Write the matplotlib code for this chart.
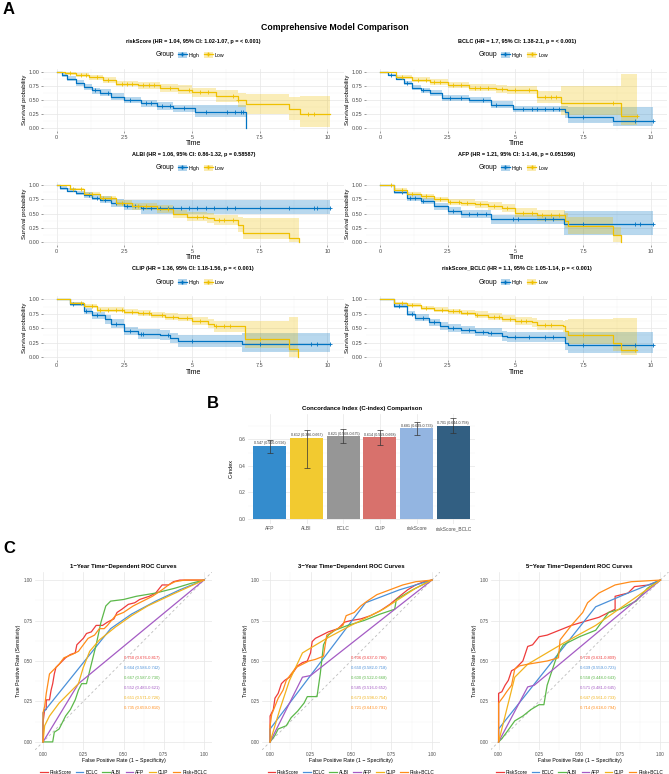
import numpy as np
import matplotlib
matplotlib.use("Agg")
import matplotlib.pyplot as plt
from matplotlib.patches import Patch
from matplotlib.lines import Line2D
from matplotlib.ticker import MultipleLocator

plt.rcParams['font.family'] = ['Liberation Sans', 'DejaVu Sans']

# ---------------- Panel A: Kaplan-Meier data ----------------
# riskScore
rs_hi_t = [0, 0.2, 0.4, 0.7, 1.0, 1.3, 1.6, 2.0, 2.5, 3.1, 3.7, 4.3, 5.1, 7.0]
rs_hi_s = [1.0, 0.94, 0.88, 0.80, 0.73, 0.67, 0.63, 0.56, 0.50, 0.44, 0.40, 0.35, 0.29, 0.0]
rs_hi_lo = [1.0, 0.91, 0.84, 0.75, 0.68, 0.61, 0.57, 0.50, 0.44, 0.38, 0.33, 0.28, 0.20, 0.0]
rs_hi_up = [1.0, 0.97, 0.92, 0.85, 0.78, 0.72, 0.69, 0.62, 0.56, 0.50, 0.46, 0.42, 0.41, 0.0]
rs_hi_cens = [1.4, 1.9, 2.7, 3.3, 3.5, 3.9, 4.2, 4.7, 5.5, 6.3, 6.6, 6.8, 6.9]
rs_lo_t = [0, 0.3, 0.7, 1.2, 1.7, 2.2, 3.0, 3.8, 4.5, 5.0, 5.9, 6.7, 7.0, 8.6, 9.0, 10.1]
rs_lo_s = [1.0, 0.97, 0.94, 0.90, 0.85, 0.79, 0.76, 0.72, 0.68, 0.64, 0.57, 0.50, 0.43, 0.34, 0.25, 0.25]
rs_lo_lo = [1.0, 0.95, 0.91, 0.86, 0.80, 0.74, 0.70, 0.65, 0.60, 0.56, 0.47, 0.38, 0.25, 0.15, 0.03, 0.03]
rs_lo_up = [1.0, 0.99, 0.97, 0.94, 0.90, 0.84, 0.82, 0.79, 0.76, 0.72, 0.67, 0.62, 0.60, 0.56, 0.57, 0.57]
rs_lo_cens = [0.5, 0.9, 1.1, 1.5, 1.9, 2.4, 2.6, 2.8, 3.2, 3.4, 3.6, 4.2, 4.9, 5.3, 5.6, 6.5, 6.7, 9.3, 9.5]

# BCLC
bc_hi_t = [0, 0.3, 0.6, 0.9, 1.2, 1.5, 1.85, 2.3, 3.3, 4.1, 4.9, 6.85, 6.95, 8.6, 10.1]
bc_hi_s = [1.0, 0.94, 0.88, 0.80, 0.72, 0.67, 0.62, 0.53, 0.50, 0.42, 0.34, 0.28, 0.20, 0.13, 0.13]
bc_hi_lo = [1.0, 0.92, 0.85, 0.76, 0.68, 0.62, 0.57, 0.48, 0.44, 0.36, 0.28, 0.18, 0.10, 0.04, 0.04]
bc_hi_up = [1.0, 0.96, 0.91, 0.84, 0.77, 0.72, 0.67, 0.59, 0.56, 0.48, 0.40, 0.40, 0.38, 0.37, 0.37]
bc_hi_cens = [0.4, 1.0, 1.6, 2.6, 3.0, 3.8, 4.3, 5.3, 5.6, 5.8, 6.1, 6.4, 6.6, 7.5, 9.4, 10.1]
bc_lo_t = [0, 0.6, 1.2, 1.85, 2.5, 3.3, 4.3, 4.7, 5.8, 6.7, 8.9, 9.5]
bc_lo_s = [1.0, 0.91, 0.86, 0.82, 0.76, 0.72, 0.70, 0.67, 0.55, 0.44, 0.21, 0.21]
bc_lo_lo = [1.0, 0.88, 0.82, 0.77, 0.71, 0.66, 0.63, 0.60, 0.45, 0.24, 0.05, 0.05]
bc_lo_up = [1.0, 0.94, 0.90, 0.87, 0.82, 0.79, 0.77, 0.74, 0.66, 0.74, 0.96, 0.96]
bc_lo_cens = [0.8, 1.4, 1.7, 2.0, 2.2, 2.7, 3.0, 3.5, 3.7, 4.0, 4.5, 5.0, 5.5, 6.1, 6.3, 6.5, 8.6, 9.5]

# ALBI
al_hi_t = [0, 0.12, 0.37, 0.7, 1.0, 1.3, 1.6, 2.0, 2.5, 3.1, 10.1]
al_hi_s = [1.0, 0.95, 0.90, 0.86, 0.83, 0.78, 0.74, 0.69, 0.64, 0.60, 0.60]
al_hi_lo = [1.0, 0.92, 0.87, 0.82, 0.78, 0.73, 0.68, 0.62, 0.56, 0.49, 0.49]
al_hi_up = [1.0, 0.98, 0.94, 0.90, 0.87, 0.83, 0.80, 0.76, 0.73, 0.73, 0.73]
al_hi_cens = [1.2, 1.5, 1.8, 2.2, 2.6, 2.9, 3.2, 3.5, 3.8, 4.1, 4.3, 4.6, 4.9, 5.2, 5.5, 5.8,
              6.3, 6.6, 7.5, 8.6, 9.5, 9.6, 10.1]
al_lo_t = [0, 0.5, 1.0, 1.6, 2.2, 2.8, 3.7, 4.3, 4.8, 5.55, 5.8, 6.7, 6.9, 8.6, 8.95]
al_lo_s = [1.0, 0.93, 0.85, 0.77, 0.68, 0.63, 0.58, 0.50, 0.45, 0.42, 0.39, 0.30, 0.16, 0.07, 0.0]
al_lo_lo = [1.0, 0.91, 0.82, 0.73, 0.63, 0.57, 0.51, 0.43, 0.37, 0.33, 0.30, 0.18, 0.05, 0.0, 0.0]
al_lo_up = [1.0, 0.95, 0.88, 0.81, 0.73, 0.69, 0.65, 0.57, 0.53, 0.51, 0.48, 0.44, 0.43, 0.43, 0.0]
al_lo_cens = [0.6, 0.9, 1.3, 1.7, 2.0, 2.4, 3.0, 3.3, 4.1, 5.2, 5.4, 6.0, 6.2, 6.5]

# AFP
af_hi_t = [0, 0.5, 1.0, 1.5, 2.0, 2.5, 3.0, 4.1, 6.8, 10.1]
af_hi_s = [1.0, 0.88, 0.77, 0.72, 0.63, 0.55, 0.49, 0.40, 0.32, 0.32]
af_hi_lo = [1.0, 0.84, 0.72, 0.66, 0.57, 0.48, 0.42, 0.32, 0.12, 0.12]
af_hi_up = [1.0, 0.92, 0.82, 0.78, 0.69, 0.62, 0.56, 0.48, 0.55, 0.55]
af_hi_cens = [0.8, 1.1, 1.3, 1.6, 2.7, 3.3, 3.6, 3.9, 4.9, 5.1, 6.1, 6.4, 7.5, 9.4, 9.6, 10.1]
af_lo_t = [0, 0.5, 1.0, 1.5, 2.0, 2.5, 3.0, 3.5, 4.0, 4.5, 5.0, 5.8, 6.85, 6.95, 8.6, 8.9]
af_lo_s = [1.0, 0.92, 0.85, 0.80, 0.75, 0.70, 0.69, 0.66, 0.63, 0.60, 0.52, 0.47, 0.38, 0.28, 0.12, 0.0]
af_lo_lo = [1.0, 0.90, 0.82, 0.76, 0.71, 0.65, 0.63, 0.60, 0.56, 0.53, 0.44, 0.38, 0.25, 0.15, 0.0, 0.0]
af_lo_up = [1.0, 0.94, 0.88, 0.84, 0.79, 0.75, 0.75, 0.72, 0.70, 0.67, 0.60, 0.56, 0.52, 0.44, 0.27, 0.0]
af_lo_cens = [0.4, 0.8, 1.2, 1.7, 2.2, 2.6, 2.9, 3.2, 3.7, 4.2, 4.7, 5.3, 5.6, 6.0, 6.3, 6.6]

# CLIP
cl_hi_t = [0, 0.5, 1.0, 1.3, 1.8, 2.0, 2.5, 3.0, 3.8, 4.2, 4.5, 6.85, 10.1]
cl_hi_s = [1.0, 0.92, 0.80, 0.72, 0.65, 0.58, 0.45, 0.40, 0.38, 0.33, 0.28, 0.22, 0.22]
cl_hi_lo = [1.0, 0.89, 0.75, 0.66, 0.58, 0.51, 0.38, 0.32, 0.30, 0.24, 0.18, 0.08, 0.08]
cl_hi_up = [1.0, 0.95, 0.85, 0.78, 0.72, 0.65, 0.52, 0.48, 0.46, 0.42, 0.38, 0.42, 0.42]
cl_hi_cens = [0.6, 1.1, 1.5, 2.2, 2.7, 3.1, 3.2, 4.1, 5.0, 7.5, 9.4, 9.6, 10.1]
cl_lo_t = [0, 0.5, 1.0, 1.5, 2.5, 3.0, 3.5, 4.0, 4.5, 5.0, 5.6, 5.8, 6.95, 8.6, 8.9]
cl_lo_s = [1.0, 0.93, 0.88, 0.82, 0.78, 0.76, 0.72, 0.70, 0.68, 0.62, 0.58, 0.53, 0.31, 0.14, 0.0]
cl_lo_lo = [1.0, 0.91, 0.85, 0.78, 0.74, 0.71, 0.67, 0.64, 0.62, 0.55, 0.50, 0.44, 0.15, 0.0, 0.0]
cl_lo_up = [1.0, 0.95, 0.91, 0.86, 0.83, 0.81, 0.78, 0.76, 0.75, 0.69, 0.66, 0.62, 0.62, 0.70, 0.0]
cl_lo_cens = [0.9, 1.3, 1.6, 1.9, 2.2, 2.4, 2.8, 3.2, 3.4, 3.9, 4.3, 4.8, 5.3, 5.9, 6.2, 6.4, 7.5]

# riskScore_BCLC
rb_hi_t = [0, 0.5, 1.0, 1.3, 1.8, 2.2, 2.5, 3.0, 3.5, 4.0, 4.5, 4.7, 6.85, 6.95, 10.1]
rb_hi_s = [1.0, 0.88, 0.75, 0.68, 0.60, 0.53, 0.50, 0.47, 0.44, 0.42, 0.36, 0.34, 0.25, 0.20, 0.20]
rb_hi_lo = [1.0, 0.85, 0.71, 0.63, 0.54, 0.47, 0.44, 0.40, 0.37, 0.35, 0.28, 0.26, 0.12, 0.07, 0.07]
rb_hi_up = [1.0, 0.91, 0.80, 0.74, 0.66, 0.60, 0.57, 0.54, 0.51, 0.50, 0.45, 0.43, 0.44, 0.44, 0.44]
rb_hi_cens = [0.7, 1.2, 1.6, 2.0, 2.7, 3.3, 3.8, 4.1, 5.0, 5.5, 6.1, 6.4, 7.5, 9.4, 10.1]
rb_lo_t = [0, 0.5, 1.0, 1.5, 2.0, 2.5, 3.0, 3.5, 4.0, 4.5, 5.0, 5.6, 5.8, 6.75, 6.85, 6.95, 8.6, 8.9, 9.5]
rb_lo_s = [1.0, 0.93, 0.90, 0.85, 0.82, 0.79, 0.77, 0.73, 0.70, 0.66, 0.63, 0.60, 0.55, 0.53, 0.45, 0.38,
           0.25, 0.12, 0.12]
rb_lo_lo = [1.0, 0.91, 0.87, 0.81, 0.78, 0.74, 0.72, 0.67, 0.64, 0.60, 0.56, 0.52, 0.47, 0.44, 0.30, 0.22,
            0.10, 0.03, 0.03]
rb_lo_up = [1.0, 0.95, 0.93, 0.89, 0.86, 0.84, 0.82, 0.79, 0.76, 0.73, 0.70, 0.68, 0.64, 0.63, 0.64, 0.65,
            0.68, 0.68, 0.68]
rb_lo_cens = [0.8, 1.2, 1.7, 2.3, 2.7, 2.9, 3.2, 3.6, 4.2, 4.4, 4.8, 5.2, 5.4, 6.1, 6.3, 7.5, 9.4]

km_titles = [
    "riskScore (HR = 1.04, 95% CI: 1.02-1.07, p = < 0.001)",
    "BCLC (HR = 1.7, 95% CI: 1.38-2.1, p = < 0.001)",
    "ALBI (HR = 1.06, 95% CI: 0.86-1.32, p = 0.58587)",
    "AFP (HR = 1.21, 95% CI: 1-1.46, p = 0.051596)",
    "CLIP (HR = 1.36, 95% CI: 1.18-1.56, p = < 0.001)",
    "riskScore_BCLC (HR = 1.1, 95% CI: 1.05-1.14, p = < 0.001)",
]

# ---------------- Panel B: C-index ----------------
cidx_models = ["AFP", "ALBI", "BCLC", "CLIP", "riskScore", "riskScore_BCLC"]
cidx_value = [0.547, 0.612, 0.621, 0.614, 0.681, 0.701]
cidx_lower = [0.500, 0.386, 0.568, 0.559, 0.629, 0.644]
cidx_upper = [0.596, 0.667, 0.675, 0.668, 0.733, 0.758]
cidx_colors = ["#348CCD", "#F2CA30", "#969696", "#D8716C", "#93B5E1", "#325F82"]

# ---------------- Panel C: ROC curves ----------------
roc_names = ["RiskScore", "BCLC", "ALBI", "AFP", "CLIP", "Risk+BCLC"]
roc_colors = ["#EE3B3B", "#4A90D9", "#5CB84A", "#A45BC4", "#F2B21C", "#FF8C1A"]

roc1_risk = [(0, 0), (0, 0.12), (0.01, 0.2), (0.02, 0.2), (0.02, 0.26), (0.04, 0.26), (0.05, 0.32),
             (0.06, 0.36), (0.07, 0.42), (0.08, 0.46), (0.10, 0.48), (0.12, 0.50), (0.14, 0.52),
             (0.17, 0.54), (0.20, 0.55), (0.21, 0.60), (0.23, 0.62), (0.25, 0.64), (0.27, 0.67),
             (0.30, 0.68), (0.33, 0.72), (0.37, 0.72), (0.40, 0.74), (0.44, 0.76), (0.46, 0.80),
             (0.49, 0.82), (0.53, 0.85), (0.57, 0.86), (0.60, 0.88), (0.66, 0.90), (0.70, 0.92),
             (0.74, 0.97), (0.78, 0.97), (0.81, 0.99), (0.85, 1.0), (1, 1)]
roc1_bclc = [(0, 0), (0, 0.18), (0.42, 0.70), (0.55, 0.79), (0.70, 0.87), (0.85, 0.94), (1, 1)]
roc1_albi = [(0, 0), (0.06, 0), (0.07, 0.06), (0.10, 0.08), (0.12, 0.12), (0.14, 0.16), (0.17, 0.20),
             (0.20, 0.26), (0.22, 0.32), (0.24, 0.36), (0.27, 0.36), (0.30, 0.48), (0.33, 0.60),
             (0.36, 0.74), (0.39, 0.84), (0.42, 0.87), (0.50, 0.88), (0.58, 0.90), (0.70, 0.92),
             (0.82, 0.95), (0.92, 0.98), (1, 1)]
roc1_afp = [(0, 0), (0.22, 0.36), (1, 1)]
roc1_clip = [(0, 0), (0.01, 0.10), (0.04, 0.16), (0.10, 0.24), (0.16, 0.30), (0.22, 0.36), (0.25, 0.46),
             (0.29, 0.56), (0.35, 0.63), (0.45, 0.71), (0.55, 0.78), (0.65, 0.84), (0.80, 0.91), (1, 1)]
roc1_rbclc = [(0, 0), (0, 0.18), (0.01, 0.22), (0.02, 0.30), (0.03, 0.36), (0.04, 0.42), (0.06, 0.44),
              (0.08, 0.46), (0.10, 0.48), (0.13, 0.52), (0.18, 0.54), (0.22, 0.56), (0.25, 0.60),
              (0.28, 0.64), (0.32, 0.66), (0.35, 0.70), (0.38, 0.70), (0.40, 0.72), (0.45, 0.78),
              (0.50, 0.80), (0.56, 0.84), (0.62, 0.87), (0.68, 0.90), (0.74, 0.94), (0.78, 0.97),
              (0.82, 0.99), (0.88, 1.0), (1, 1)]

roc3_risk = [(0, 0), (0, 0.16), (0.02, 0.20), (0.03, 0.27), (0.05, 0.30), (0.07, 0.36), (0.09, 0.38),
             (0.12, 0.40), (0.15, 0.44), (0.17, 0.47), (0.20, 0.49), (0.23, 0.50), (0.25, 0.55),
             (0.26, 0.62), (0.28, 0.64), (0.32, 0.66), (0.36, 0.68), (0.42, 0.70), (0.46, 0.74),
             (0.50, 0.75), (0.56, 0.76), (0.62, 0.78), (0.68, 0.81), (0.74, 0.85), (0.80, 0.90),
             (0.85, 0.94), (0.90, 0.97), (0.95, 0.99), (1, 1)]
roc3_bclc = [(0, 0), (0, 0.08), (0.59, 0.86), (0.80, 0.94), (1, 1)]
roc3_albi = [(0, 0), (0.03, 0.04), (0.05, 0.08), (0.10, 0.10), (0.13, 0.15), (0.17, 0.19), (0.21, 0.24),
             (0.23, 0.28), (0.29, 0.28), (0.31, 0.42), (0.33, 0.60), (0.36, 0.66), (0.40, 0.69),
             (0.48, 0.72), (0.58, 0.75), (0.68, 0.79), (0.77, 0.82), (0.78, 0.88), (0.88, 0.94), (1, 1)]
roc3_afp = [(0, 0), (0.20, 0.40), (0.25, 0.41), (1, 1)]
roc3_clip = [(0, 0), (0.06, 0.20), (0.12, 0.38), (0.20, 0.55), (0.25, 0.58), (0.35, 0.64), (0.50, 0.72),
             (0.70, 0.82), (0.90, 0.95), (1, 1)]
roc3_rbclc = [(0, 0), (0, 0.10), (0.01, 0.17), (0.03, 0.22), (0.05, 0.27), (0.08, 0.32), (0.10, 0.38),
              (0.13, 0.42), (0.16, 0.46), (0.20, 0.48), (0.24, 0.50), (0.28, 0.51), (0.33, 0.53),
              (0.35, 0.66), (0.40, 0.69), (0.45, 0.72), (0.47, 0.78), (0.52, 0.80), (0.56, 0.84),
              (0.60, 0.87), (0.66, 0.91), (0.74, 0.94), (0.82, 0.97), (0.90, 0.99), (1, 1)]

roc5_risk = [(0, 0), (0, 0.30), (0.02, 0.31), (0.04, 0.35), (0.06, 0.38), (0.08, 0.44), (0.10, 0.45),
             (0.12, 0.47), (0.15, 0.50), (0.18, 0.59), (0.21, 0.60), (0.25, 0.65), (0.30, 0.66),
             (0.35, 0.68), (0.40, 0.70), (0.45, 0.72), (0.55, 0.75), (0.62, 0.77), (0.66, 0.79),
             (0.72, 0.82), (0.72, 0.90), (0.80, 0.92), (0.84, 0.96), (0.93, 0.97), (1, 1)]
roc5_bclc = [(0, 0), (0, 0.08), (0.60, 0.835), (0.80, 0.92), (1, 1)]
roc5_albi = [(0, 0), (0.02, 0.02), (0.05, 0.06), (0.10, 0.13), (0.15, 0.16), (0.20, 0.20), (0.25, 0.23),
             (0.28, 0.23), (0.30, 0.35), (0.35, 0.50), (0.37, 0.55), (0.40, 0.60), (0.50, 0.65),
             (0.60, 0.69), (0.68, 0.80), (0.75, 0.82), (0.85, 0.87), (0.92, 0.95), (1, 1)]
roc5_afp = [(0, 0), (0.18, 0.34), (0.22, 0.35), (1, 1)]
roc5_clip = [(0, 0), (0.10, 0.40), (0.18, 0.48), (0.40, 0.61), (0.60, 0.72), (0.80, 0.86), (1, 1)]
roc5_rbclc = [(0, 0), (0, 0.24), (0.03, 0.28), (0.05, 0.31), (0.08, 0.35), (0.10, 0.45), (0.13, 0.47),
              (0.18, 0.48), (0.30, 0.50), (0.37, 0.52), (0.38, 0.63), (0.45, 0.72), (0.52, 0.80),
              (0.55, 0.86), (0.62, 0.92), (0.72, 0.97), (0.82, 0.99), (1, 1)]

auc1_labels = ["0.750 (0.676-0.817)", "0.664 (0.584-0.742)", "0.667 (0.587-0.730)",
               "0.552 (0.483-0.621)", "0.651 (0.571-0.726)", "0.735 (0.659-0.810)"]
auc3_labels = ["0.706 (0.637-0.786)", "0.650 (0.582-0.718)", "0.600 (0.522-0.668)",
               "0.585 (0.516-0.652)", "0.673 (0.598-0.754)", "0.721 (0.643-0.791)"]
auc5_labels = ["0.720 (0.631-0.809)", "0.639 (0.559-0.723)", "0.558 (0.448-0.643)",
               "0.571 (0.481-0.645)", "0.647 (0.561-0.733)", "0.714 (0.618-0.794)"]

# ---------------- layout helpers ----------------
W, H = 669, 774
HI_COL = "#0073C2"
LO_COL = "#EFC000"
GRID_MAJ = "#E6E6E6"
GRID_MIN = "#F2F2F2"
TICK_COL = "#4D4D4D"

fig = plt.figure(figsize=(W / 100, H / 100), dpi=100)


def px_axes(left, top, right, bottom):
    return fig.add_axes([left / W, 1 - bottom / H, (right - left) / W, (bottom - top) / H])


def minimal(ax):
    for sp in ax.spines.values():
        sp.set_visible(False)
    ax.grid(True, which="major", color=GRID_MAJ, lw=0.5)
    ax.grid(True, which="minor", color=GRID_MIN, lw=0.3)
    ax.set_axisbelow(True)


def km_panel(box, title, groups):
    ax = px_axes(*box)
    for (t, s, lo, up, cens), col in groups:
        ax.fill_between(t, lo, up, step="post", color=col, alpha=0.28, lw=0)
    for (t, s, lo, up, cens), col in groups:
        ax.step(t, s, where="post", color=col, lw=0.9)
        idx = np.searchsorted(t, cens, side="right") - 1
        ax.plot(cens, np.array(s)[idx], "+", color=col, ms=3.2, mew=0.6)
    ax.set_xlim(-0.505, 10.6)
    ax.set_ylim(-0.05, 1.05)
    ax.set_xticks([0, 2.5, 5, 7.5, 10])
    ax.set_xticklabels(["0", "2.5", "5", "7.5", "10"])
    ax.set_yticks([0, 0.25, 0.5, 0.75, 1.0])
    ax.set_yticklabels(["0.00", "0.25", "0.50", "0.75", "1.00"])
    ax.xaxis.set_minor_locator(MultipleLocator(1.25))
    ax.yaxis.set_minor_locator(MultipleLocator(0.125))
    minimal(ax)
    ax.tick_params(which="major", labelsize=4, colors=TICK_COL, length=1.5, width=0.4, pad=1)
    ax.tick_params(which="minor", length=0)
    ax.set_xlabel("Time", fontsize=5, labelpad=0.5)
    ax.set_ylabel("Survival probability", fontsize=4.3, labelpad=1.5)
    ax.text(0.5, 1.445, title, transform=ax.transAxes, ha="center", va="center",
            fontsize=4, fontweight="bold")
    ax.text(0.435, 1.225, "Group", transform=ax.transAxes, ha="right", va="center", fontsize=4.8)
    handles = [(Patch(facecolor=c, alpha=0.3), Line2D([], [], color=c, marker="+", ms=3, lw=0.9))
               for c in (HI_COL, LO_COL)]
    ax.legend(handles, ["High", "Low"], loc="center left", bbox_to_anchor=(0.448, 1.225), ncol=2,
              frameon=False, fontsize=3.8, handlelength=1.7, handleheight=1.3, handletextpad=0.4,
              columnspacing=0.8, borderpad=0, borderaxespad=0)
    return ax


# ---------------- Panel A ----------------
fig.text(3 / W, 1 - 2 / H, "A", fontsize=12, fontweight="bold", va="top", ha="left")
fig.text(0.5, 1 - 27 / H, "Comprehensive Model Comparison", fontsize=6.3, fontweight="bold",
         ha="center", va="center")

rows = [(68.9, 131.1), (182.1, 245.2), (296.4, 359.9)]
cols = [(43.0, 343.6), (366.3, 667.0)]
km_data = [
    [((rs_hi_t, rs_hi_s, rs_hi_lo, rs_hi_up, rs_hi_cens), HI_COL),
     ((rs_lo_t, rs_lo_s, rs_lo_lo, rs_lo_up, rs_lo_cens), LO_COL)],
    [((bc_hi_t, bc_hi_s, bc_hi_lo, bc_hi_up, bc_hi_cens), HI_COL),
     ((bc_lo_t, bc_lo_s, bc_lo_lo, bc_lo_up, bc_lo_cens), LO_COL)],
    [((al_hi_t, al_hi_s, al_hi_lo, al_hi_up, al_hi_cens), HI_COL),
     ((al_lo_t, al_lo_s, al_lo_lo, al_lo_up, al_lo_cens), LO_COL)],
    [((af_hi_t, af_hi_s, af_hi_lo, af_hi_up, af_hi_cens), HI_COL),
     ((af_lo_t, af_lo_s, af_lo_lo, af_lo_up, af_lo_cens), LO_COL)],
    [((cl_hi_t, cl_hi_s, cl_hi_lo, cl_hi_up, cl_hi_cens), HI_COL),
     ((cl_lo_t, cl_lo_s, cl_lo_lo, cl_lo_up, cl_lo_cens), LO_COL)],
    [((rb_hi_t, rb_hi_s, rb_hi_lo, rb_hi_up, rb_hi_cens), HI_COL),
     ((rb_lo_t, rb_lo_s, rb_lo_lo, rb_lo_up, rb_lo_cens), LO_COL)],
]
for i, (title, groups) in enumerate(zip(km_titles, km_data)):
    top, bottom = rows[i // 2]
    left, right = cols[i % 2]
    km_panel((left, top, right, bottom), title, groups)

# ---------------- Panel B ----------------
fig.text(207 / W, 1 - 396 / H, "B", fontsize=12, fontweight="bold", va="top", ha="left")
axb = px_axes(248, 414, 475.3, 523.6)
xb = np.arange(1, len(cidx_models) + 1)
val = np.array(cidx_value)
axb.bar(xb, val, width=0.9, color=cidx_colors, zorder=2)
axb.errorbar(xb, val, yerr=[val - np.array(cidx_lower), np.array(cidx_upper) - val], fmt="none",
             ecolor="#333333", elinewidth=0.5, capsize=2.5, capthick=0.5, zorder=3)
for x, v, lo, up in zip(xb, cidx_value, cidx_lower, cidx_upper):
    axb.text(x, v + 0.006, f"{v:.3f} ({lo:.3f}-{up:.3f})", ha="center", va="bottom",
             fontsize=2.6, color="#333333", zorder=4)
axb.set_xlim(0.4, 6.6)
axb.set_ylim(-0.035, 0.79)
axb.set_xticks(xb)
axb.set_xticklabels(cidx_models)
axb.set_yticks([0, 0.2, 0.4, 0.6])
axb.set_yticklabels(["0.0", "0.2", "0.4", "0.6"])
axb.yaxis.set_minor_locator(MultipleLocator(0.1))
minimal(axb)
axb.tick_params(which="both", labelsize=3.5, colors=TICK_COL, length=0, pad=2)
axb.set_ylabel("C-index", fontsize=4, labelpad=3)
axb.set_title("Concordance Index (C-index) Comparison", fontsize=4.3, fontweight="bold", pad=3)

# ---------------- Panel C ----------------
fig.text(3 / W, 1 - 541 / H, "C", fontsize=12, fontweight="bold", va="top", ha="left")
roc_sets = [
    ("1\u2212Year Time\u2212Dependent ROC Curves", (35, 572, 212, 750),
     [roc1_risk, roc1_bclc, roc1_albi, roc1_afp, roc1_clip, roc1_rbclc], auc1_labels),
    ("3\u2212Year Time\u2212Dependent ROC Curves", (262, 572, 440, 750),
     [roc3_risk, roc3_bclc, roc3_albi, roc3_afp, roc3_clip, roc3_rbclc], auc3_labels),
    ("5\u2212Year Time\u2212Dependent ROC Curves", (490.5, 572, 668.5, 750),
     [roc5_risk, roc5_bclc, roc5_albi, roc5_afp, roc5_clip, roc5_rbclc], auc5_labels),
]
auc_y = [0.52, 0.458, 0.396, 0.334, 0.272, 0.21]
for title, box, curves, labels in roc_sets:
    ax = px_axes(*box)
    ax.axline((0, 0), (1, 1), ls=(0, (3, 3)), color="#BDBDBD", lw=0.6)
    for name, pts, col in zip(roc_names, curves, roc_colors):
        xs, ys = zip(*pts)
        ax.plot(xs, ys, color=col, lw=0.9, label=name)
    for lab, y, col in zip(labels, auc_y, roc_colors):
        ax.text(0.5, y, lab, color=col, fontsize=3, ha="left", va="center")
    ax.set_xlim(-0.05, 1.05)
    ax.set_ylim(-0.05, 1.05)
    ticks = [0, 0.25, 0.5, 0.75, 1.0]
    tick_lab = ["0.00", "0.25", "0.50", "0.75", "1.00"]
    ax.set_xticks(ticks)
    ax.set_xticklabels(tick_lab)
    ax.set_yticks(ticks)
    ax.set_yticklabels(tick_lab)
    ax.xaxis.set_minor_locator(MultipleLocator(0.125))
    ax.yaxis.set_minor_locator(MultipleLocator(0.125))
    minimal(ax)
    ax.tick_params(which="both", labelsize=3.3, colors=TICK_COL, length=0, pad=1.5)
    ax.set_xlabel("False Positive Rate (1 \u2212 Specificity)", fontsize=3.8, labelpad=1)
    ax.set_ylabel("True Positive Rate (Sensitivity)", fontsize=3.8, labelpad=2)
    ax.set_title(title, fontsize=4.3, fontweight="bold", pad=3)
    ax.legend(loc="center", bbox_to_anchor=(0.5, -0.125), ncol=6, frameon=False, fontsize=3.4,
              handlelength=1.6, handletextpad=0.4, columnspacing=0.9, borderpad=0)

fig.savefig("out.png", dpi=100, facecolor="white")
